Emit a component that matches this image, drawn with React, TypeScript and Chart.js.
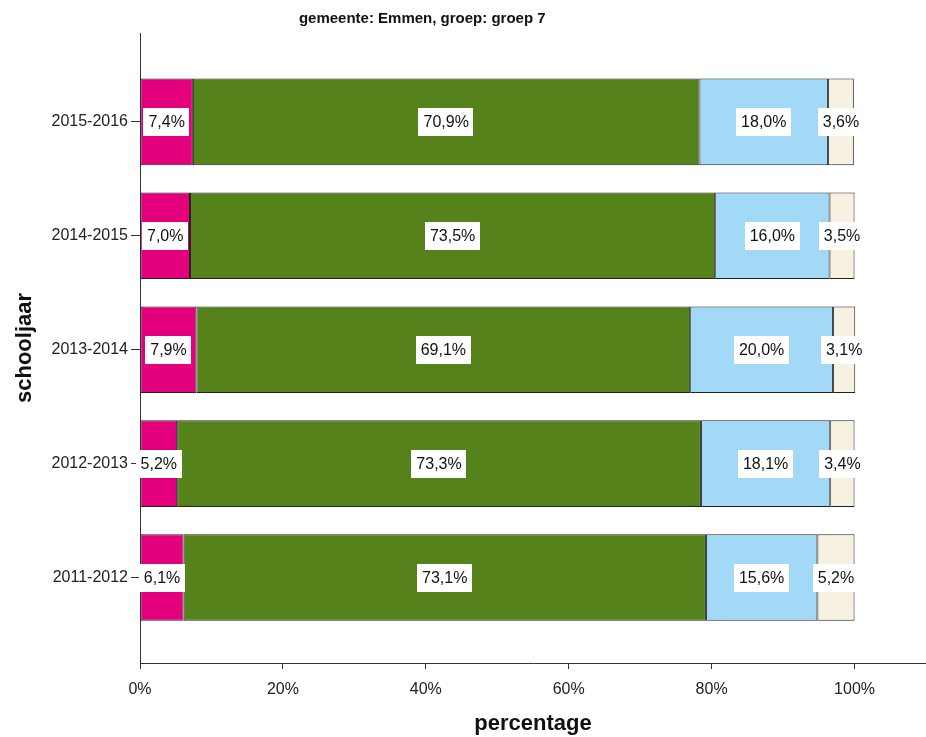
import React, { useEffect, useRef } from "react";
import { Chart, registerables } from "chart.js";

Chart.register(...registerables);

const titleText = "gemeente: Emmen, groep: groep 7";
const categories = ["2015-2016", "2014-2015", "2013-2014", "2012-2013", "2011-2012"];
const seriesA = [7.4, 7.0, 7.9, 5.2, 6.1];
const seriesB = [70.9, 73.5, 69.1, 73.3, 73.1];
const seriesC = [18.0, 16.0, 20.0, 18.1, 15.6];
const seriesD = [3.6, 3.5, 3.1, 3.4, 5.2];
const xTicks = [0, 20, 40, 60, 80, 100];

const FONT = "'Liberation Sans', Arial, sans-serif";

const labelPlugin = {
  id: "segLabels",
  afterDatasetsDraw(chart: any) {
    const ctx = chart.ctx;
    ctx.save();
    ctx.font = `16px ${FONT}`;
    ctx.textAlign = "center";
    ctx.textBaseline = "middle";
    chart.data.datasets.forEach((ds: any, di: number) => {
      const meta = chart.getDatasetMeta(di);
      meta.data.forEach((bar: any, i: number) => {
        const v = ds.data[i].x;
        const txt = v.toFixed(1).replace(".", ",") + "%";
        const cx = (bar.x + bar.base) / 2;
        const cy = bar.y;
        const w = ctx.measureText(txt).width + 10;
        const h = 28;
        ctx.fillStyle = "#ffffff";
        ctx.fillRect(Math.round(cx - w / 2), Math.round(cy - h / 2), Math.round(w), h);
        ctx.fillStyle = "#111111";
        ctx.fillText(txt, cx, cy + 1);
      });
    });
    ctx.restore();
  },
};

const titlePlugin = {
  id: "customTitle",
  afterDraw(chart: any) {
    const ctx = chart.ctx;
    const xs = chart.scales.x;
    ctx.save();
    ctx.font = `bold 15px ${FONT}`;
    ctx.fillStyle = "#111111";
    ctx.textAlign = "center";
    ctx.textBaseline = "middle";
    const cx = xs.getPixelForValue(39.5);
    ctx.fillText(titleText, cx, 19);
    ctx.restore();
  },
};

export default function App() {
  const ref = useRef<HTMLCanvasElement>(null);
  useEffect(() => {
    if (!ref.current) return;
    const mk = (label: string, vals: number[], color: string) => ({
      label,
      data: vals.map((v, i) => ({ x: v, y: i })),
      backgroundColor: color,
      borderColor: "#222222",
      borderWidth: 1,
      borderSkipped: false,
      categoryPercentage: 1,
      barPercentage: 0.76,
    });
    const chart = new Chart(ref.current, {
      type: "bar",
      data: {
        datasets: [
          mk("a", seriesA, "#E4007C"),
          mk("b", seriesB, "#55821B"),
          mk("c", seriesC, "#A2D9F7"),
          mk("d", seriesD, "#F7F1E1"),
        ],
      },
      options: {
        indexAxis: "y",
        animation: false,
        responsive: false,
        maintainAspectRatio: false,
        layout: { padding: { top: 33, right: 0, left: 0, bottom: 0 } },
        plugins: {
          legend: { display: false },
          tooltip: { enabled: false },
          title: { display: false },
        },
        scales: {
          x: {
            type: "linear",
            stacked: true,
            min: 0,
            max: 110,
            afterBuildTicks: (s: any) => {
              s.ticks = xTicks.map((v) => ({ value: v }));
            },
            afterFit: (s: any) => {
              s.height = 74;
            },
            ticks: {
              font: { family: FONT, size: 16 },
              color: "#222222",
              padding: 11,
              callback: (v: any) => `${v}%`,
            },
            grid: {
              display: true,
              offset: false,
              drawOnChartArea: false,
              drawTicks: true,
              tickLength: 6,
              color: "#333333",
            },
            border: { display: true, color: "#333333", width: 1 },
            title: {
              display: true,
              text: "percentage",
              font: { family: FONT, size: 22, weight: "bold" },
              color: "#111111",
              padding: { top: 0, bottom: 0 },
            },
          },
          y: {
            type: "linear",
            stacked: true,
            reverse: true,
            offset: false,
            min: -0.78,
            max: 4.75,
            afterBuildTicks: (s: any) => {
              s.ticks = categories.map((_, i) => ({ value: i }));
            },
            afterFit: (s: any) => {
              s.width = 140;
            },
            ticks: {
              font: { family: FONT, size: 16 },
              color: "#222222",
              padding: 3,
              callback: (v: any) => categories[v] ?? "",
            },
            grid: {
              display: true,
              offset: false,
              drawOnChartArea: false,
              drawTicks: true,
              tickLength: 9,
              color: "#333333",
            },
            border: { display: true, color: "#333333", width: 1 },
            title: {
              display: true,
              text: "schooljaar",
              font: { family: FONT, size: 22, weight: "bold" },
              color: "#111111",
              padding: { top: 12, bottom: 0 },
            },
          },
        },
      } as any,
      plugins: [labelPlugin, titlePlugin],
    });
    return () => chart.destroy();
  }, []);
  return (
    <div style={{ position: "fixed", left: 0, top: 0, width: 926, height: 737, background: "#fff" }}>
      <canvas ref={ref} width={926} height={737} style={{ width: 926, height: 737 }} />
    </div>
  );
}
